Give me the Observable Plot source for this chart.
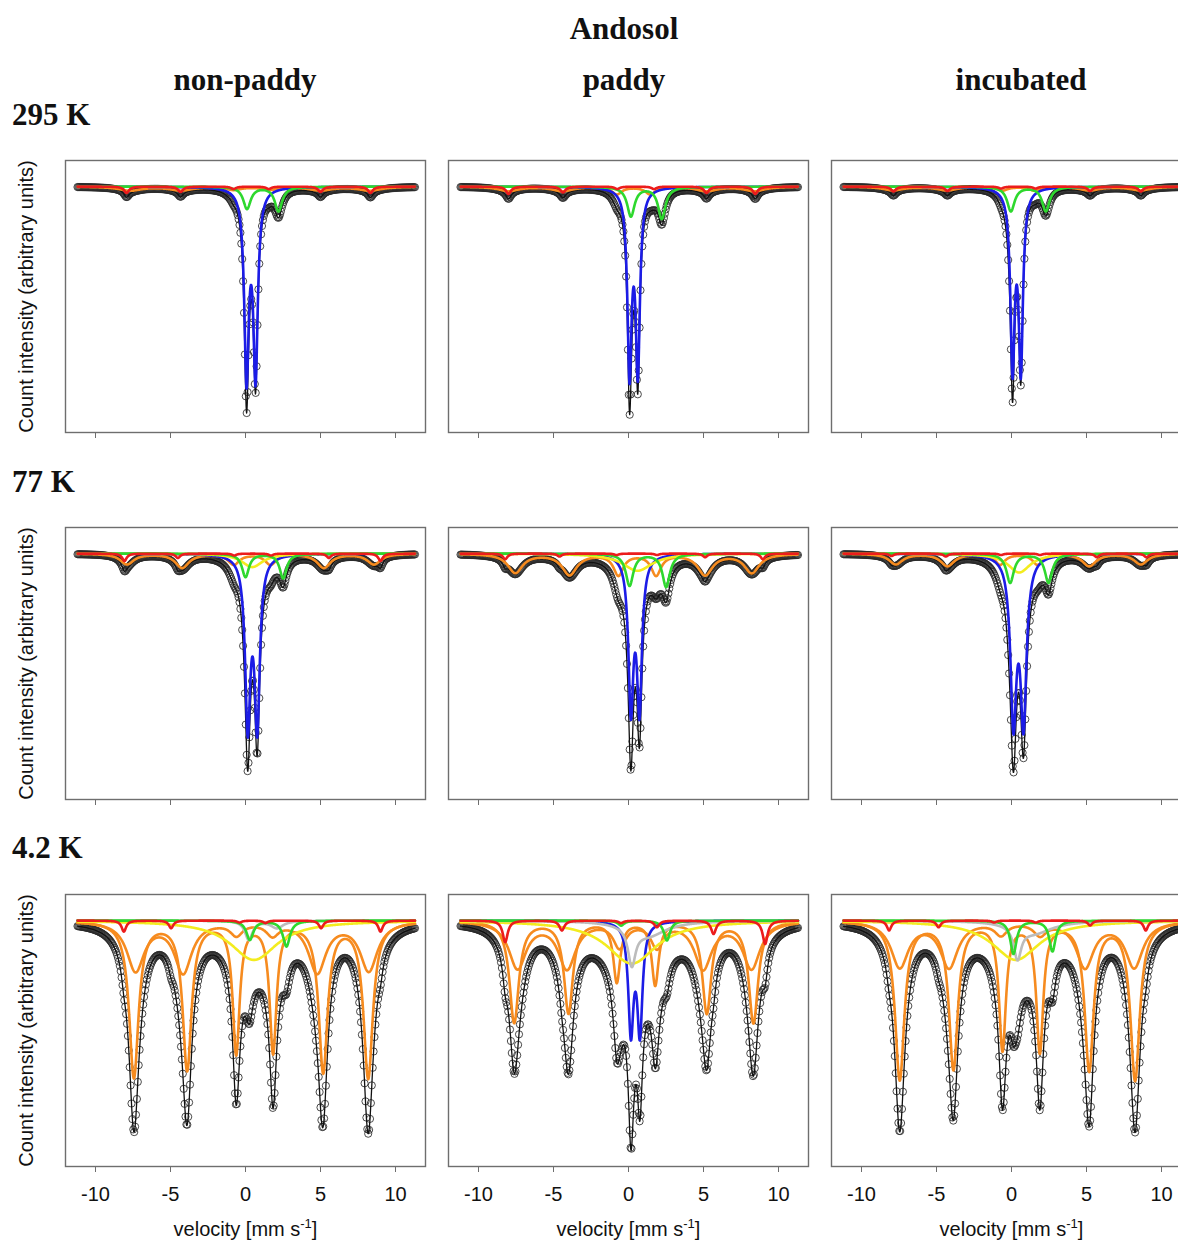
<!DOCTYPE html>
<html>
<head>
<meta charset="utf-8">
<script src="https://cdn.jsdelivr.net/npm/d3@7"></script>
<script src="https://cdn.jsdelivr.net/npm/@observablehq/plot@0.6"></script>
<style>
  html, body { margin: 0; padding: 0; background: #fff; }
  body { width: 1178px; height: 1242px; overflow: hidden; position: relative; }
  #fig { position: absolute; left: 0; top: 0; width: 1178px; height: 1242px; overflow: hidden; }
  .panel { position: absolute; }
  .panel svg { overflow: visible; max-width: none !important; display: block; }
  #heads { position: absolute; left: 0; top: 0; }
</style>
</head>
<body>
<div id="fig"></div>
<script>
// ---------------- text ----------------
const soilTitle = "Andosol";
const treatments = ["non-paddy", "paddy", "incubated"];
const temperatures = ["295 K", "77 K", "4.2 K"];
const yLabel = "Count intensity (arbitrary units)";
const xLabel = "velocity [mm s-1]";
const velocityTicks = [-10, -5, 0, 5, 10];
const velocityRange = [-11.2, 11.3];

// ---------------- fitted components ----------------
// [component, centre (mm/s), depth (relative absorption), half width (mm/s)]
const nonPaddy295 = [
  ["blue", 0.07, 0.76, 0.18], ["blue", 0.67, 0.75, 0.18],
  ["green", 0.10, 0.09, 0.30], ["green", 2.20, 0.10, 0.30],
  ["orange", -7.70, 0.016, 0.90], ["orange", -4.30, 0.015, 0.90], ["orange", -0.80, 0.012, 0.60],
  ["orange", 1.60, 0.012, 0.60], ["orange", 5.00, 0.015, 0.90], ["orange", 8.30, 0.016, 0.90],
  ["red", -7.93, 0.026, 0.20], ["red", -4.33, 0.022, 0.20], ["red", -0.80, 0.010, 0.20],
  ["red", 1.55, 0.010, 0.20], ["red", 5.00, 0.022, 0.20], ["red", 8.33, 0.026, 0.20]
];
const paddy295 = [
  ["blue", 0.07, 0.74, 0.17], ["blue", 0.62, 0.73, 0.17],
  ["green", 0.16, 0.12, 0.30], ["green", 2.22, 0.13, 0.30],
  ["orange", -8.00, 0.018, 0.80], ["orange", -4.40, 0.018, 0.80], ["orange", -0.78, 0.030, 0.40],
  ["orange", 1.45, 0.030, 0.40], ["orange", 5.20, 0.018, 0.80], ["orange", 8.40, 0.018, 0.80],
  ["red", -8.00, 0.030, 0.20], ["red", -4.37, 0.024, 0.20], ["red", -0.75, 0.010, 0.20],
  ["red", 1.70, 0.010, 0.20], ["red", 5.20, 0.026, 0.20], ["red", 8.45, 0.030, 0.20]
];
const incubated295 = [
  ["blue", 0.07, 0.72, 0.17], ["blue", 0.62, 0.72, 0.17],
  ["green", -0.04, 0.10, 0.30], ["green", 2.29, 0.10, 0.30],
  ["orange", -7.90, 0.015, 0.80], ["orange", -4.30, 0.015, 0.80], ["orange", -0.60, 0.015, 0.40],
  ["orange", 1.51, 0.015, 0.40], ["orange", 5.20, 0.015, 0.80], ["orange", 8.60, 0.015, 0.80],
  ["red", -7.87, 0.020, 0.20], ["red", -4.27, 0.018, 0.20], ["red", -0.70, 0.008, 0.20],
  ["red", 1.60, 0.008, 0.20], ["red", 5.24, 0.018, 0.20], ["red", 8.62, 0.020, 0.20]
];
const nonPaddy77 = [
  ["blue", 0.15, 0.68, 0.21], ["blue", 0.78, 0.68, 0.21],
  ["green", 0.00, 0.095, 0.28], ["green", 2.51, 0.10, 0.28],
  ["yellow", 0.45, 0.055, 0.85],
  ["orange", -7.90, 0.043, 0.55], ["orange", -4.22, 0.057, 0.55], ["orange", -0.78, 0.043, 0.45],
  ["orange", 1.67, 0.043, 0.45], ["orange", 5.22, 0.057, 0.55], ["orange", 8.56, 0.043, 0.55],
  ["red", -8.07, 0.030, 0.18], ["red", -4.51, 0.018, 0.18], ["red", -0.75, 0.008, 0.18],
  ["red", 1.70, 0.008, 0.18], ["red", 5.56, 0.018, 0.18], ["red", 9.00, 0.030, 0.18]
];
const paddy77 = [
  ["blue", 0.16, 0.61, 0.20], ["blue", 0.73, 0.61, 0.20],
  ["green", 0.07, 0.13, 0.30], ["green", 2.51, 0.135, 0.30],
  ["yellow", 0.60, 0.07, 1.20],
  ["orange", -7.55, 0.077, 0.60], ["orange", -3.93, 0.085, 0.60], ["orange", -0.67, 0.085, 0.40],
  ["orange", 1.84, 0.085, 0.40], ["orange", 5.11, 0.085, 0.60], ["orange", 8.22, 0.077, 0.60],
  ["red", -8.22, 0.023, 0.18], ["red", -4.60, 0.012, 0.18], ["red", -0.80, 0.006, 0.18],
  ["red", 1.90, 0.006, 0.18], ["red", 5.11, 0.015, 0.18], ["red", 8.96, 0.023, 0.18]
];
const incubated77 = [
  ["blue", 0.13, 0.66, 0.24], ["blue", 0.80, 0.66, 0.24],
  ["green", -0.09, 0.118, 0.30], ["green", 2.47, 0.118, 0.30],
  ["yellow", 0.51, 0.077, 0.90],
  ["orange", -7.71, 0.043, 0.55], ["orange", -4.27, 0.050, 0.55], ["orange", -0.76, 0.043, 0.40],
  ["orange", 1.73, 0.043, 0.40], ["orange", 5.18, 0.050, 0.55], ["orange", 8.62, 0.043, 0.55],
  ["red", -8.00, 0.010, 0.18], ["red", -4.38, 0.012, 0.18], ["red", -0.70, 0.006, 0.18],
  ["red", 1.90, 0.006, 0.18], ["red", 5.69, 0.015, 0.18], ["red", 9.00, 0.015, 0.18]
];
const nonPaddy4 = [
  ["orange", -7.44, 0.634, 0.38], ["orange", -3.89, 0.600, 0.36], ["orange", -0.62, 0.530, 0.28],
  ["orange", 1.84, 0.526, 0.28], ["orange", 5.18, 0.607, 0.36], ["orange", 8.18, 0.634, 0.38],
  ["orangeBroad", -7.33, 0.200, 0.70], ["orangeBroad", -4.16, 0.207, 0.70], ["orangeBroad", -0.60, 0.050, 0.50],
  ["orangeBroad", 1.80, 0.050, 0.50], ["orangeBroad", 4.78, 0.207, 0.70], ["orangeBroad", 8.22, 0.200, 0.70],
  ["yellow", 0.56, 0.16, 1.90],
  ["gray", 0.22, 0.078, 0.30], ["gray", 2.10, 0.030, 0.50],
  ["green", 0.29, 0.078, 0.28], ["green", 2.73, 0.105, 0.28],
  ["red", -8.11, 0.045, 0.18], ["red", -4.96, 0.031, 0.18], ["red", -0.40, 0.008, 0.18],
  ["red", 1.33, 0.010, 0.18], ["red", 5.04, 0.031, 0.18], ["red", 9.00, 0.045, 0.18]
];
const paddy4 = [
  ["orange", -7.62, 0.413, 0.38], ["orange", -4.00, 0.372, 0.36], ["orange", -0.78, 0.244, 0.28],
  ["orange", 1.78, 0.256, 0.28], ["orange", 5.22, 0.372, 0.36], ["orange", 8.33, 0.413, 0.38],
  ["orangeBroad", -7.40, 0.190, 0.70], ["orangeBroad", -4.10, 0.190, 0.70], ["orangeBroad", -0.60, 0.100, 0.50],
  ["orangeBroad", 1.90, 0.100, 0.50], ["orangeBroad", 4.97, 0.190, 0.70], ["orangeBroad", 8.20, 0.190, 0.70],
  ["blue", 0.16, 0.44, 0.21], ["blue", 0.76, 0.44, 0.21],
  ["yellow", 0.22, 0.175, 2.00],
  ["gray", 0.22, 0.15, 0.30], ["gray", 1.30, 0.06, 1.50],
  ["green", -0.49, 0.020, 0.25], ["green", 2.56, 0.081, 0.25],
  ["red", -8.22, 0.088, 0.20], ["red", -4.44, 0.040, 0.20], ["red", -0.50, 0.010, 0.20],
  ["red", 1.89, 0.027, 0.20], ["red", 5.67, 0.054, 0.20], ["red", 9.11, 0.095, 0.20]
];
const incubated4 = [
  ["orange", -7.45, 0.643, 0.38], ["orange", -3.87, 0.596, 0.36], ["orange", -0.60, 0.515, 0.28],
  ["orange", 1.89, 0.524, 0.28], ["orange", 5.18, 0.600, 0.36], ["orange", 8.24, 0.643, 0.38],
  ["orangeBroad", -7.45, 0.186, 0.70], ["orangeBroad", -4.16, 0.186, 0.70], ["orangeBroad", -0.70, 0.050, 0.50],
  ["orangeBroad", 1.90, 0.050, 0.50], ["orangeBroad", 4.90, 0.186, 0.70], ["orangeBroad", 8.18, 0.186, 0.70],
  ["yellow", 0.29, 0.16, 1.90],
  ["gray", 0.40, 0.13, 0.30], ["gray", 1.50, 0.05, 1.50],
  ["green", 0.13, 0.135, 0.25], ["green", 2.73, 0.125, 0.25],
  ["red", -8.16, 0.040, 0.18], ["red", -4.86, 0.027, 0.18], ["red", -1.16, 0.008, 0.18],
  ["red", 1.62, 0.008, 0.18], ["red", 5.24, 0.020, 0.18], ["red", 8.95, 0.040, 0.18]
];

const spectra = [
  [nonPaddy295, paddy295, incubated295],
  [nonPaddy77, paddy77, incubated77],
  [nonPaddy4, paddy4, incubated4]
];

// ---------------- styling / layout ----------------
const componentColors = {
  orangeBroad: "#f68b1f", orange: "#f68b1f", blue: "#1c1ce6", yellow: "#f3ec1f",
  gray: "#bcbcbc", green: "#2ed82e", red: "#ec1c1c"
};
const drawOrder = ["orangeBroad", "orange", "blue", "yellow", "gray", "green", "red"];
const frameLefts = [65, 448, 831];
const frameTops = [160, 527, 894];
const frameW = 360, frameH = 272;
const yTop = 1.106;
const axisGray = "#6e6e6e";

const lorentz = (v, c, d, w) => d * w * w / (w * w + (v - c) * (v - c));
const fine = d3.range(velocityRange[0], velocityRange[1] + 1e-9, 0.02);
const coarse = d3.range(velocityRange[0], velocityRange[1] + 1e-9, 0.06);

const fig = document.getElementById("fig");

spectra.forEach((row, r) => {
  row.forEach((lines, c) => {
    const total = v => 1 - d3.sum(lines, l => lorentz(v, l[1], l[2], l[3]));
    const fitLine = fine.map(v => ({v, y: total(v)}));
    const points = coarse.map(v => ({v, y: total(v)}));
    const keys = drawOrder.filter(k => lines.some(l => l[0] === k));
    const compMarks = keys.map(k => {
      const sub = lines.filter(l => l[0] === k);
      const curve = fine.map(v => ({v, y: 1 - d3.sum(sub, l => lorentz(v, l[1], l[2], l[3]))}));
      return Plot.line(curve, {x: "v", y: "y", stroke: componentColors[k], strokeWidth: 2.6});
    });

    const mL = c === 0 ? 65 : 20, mR = 20, mT = 12, mB = r === 2 ? 84 : 20;
    const bottomRow = r === 2;
    const W = mL + frameW + mR, H = mT + frameH + mB;
    const marks = [
      Plot.frame({stroke: axisGray, strokeWidth: 1.4}),
      Plot.axisX({
        ticks: velocityTicks, tickSize: 6, tickPadding: 14, label: null,
        tickFormat: bottomRow ? (d => String(d)) : (() => ""),
        fontSize: 20, stroke: axisGray, fill: "#111"
      }),
      Plot.dot(points, {x: "v", y: "y", r: 3.6, stroke: "#2a2a2a", strokeWidth: 0.85, fill: "none"}),
      Plot.line(fitLine, {x: "v", y: "y", stroke: "#111", strokeWidth: 1.3}),
      ...compMarks
    ];
    if (c === 0) {
      marks.push(Plot.text([yLabel], {frameAnchor: "left", textAnchor: "middle", rotate: -90, dx: -39, fontSize: 20, fill: "#111"}));
    }
    if (bottomRow) {
      marks.push(Plot.text([xLabel], {frameAnchor: "bottom", textAnchor: "middle", dy: 69, fontSize: 20, fill: "#111"}));
    }
    const svg = Plot.plot({
      width: W, height: H,
      marginLeft: mL, marginRight: mR, marginTop: mT, marginBottom: mB,
      style: {fontFamily: "'Liberation Sans', Arial, sans-serif", fontSize: "20px", background: "transparent", color: "#111", maxWidth: "none"},
      x: {domain: [-12, 12]},
      y: {domain: [0, yTop], axis: null},
      marks
    });
    // superscript in the velocity unit
    d3.select(svg).selectAll("text").filter(function () { return this.textContent === xLabel; })
      .each(function () {
        const t = d3.select(this);
        t.text(null);
        t.append("tspan").text("velocity [mm s");
        t.append("tspan").attr("dy", -8).attr("font-size", 13).text("-1");
        t.append("tspan").attr("dy", 8).text("]");
      });
    const holder = document.createElement("div");
    holder.className = "panel";
    holder.style.left = (frameLefts[c] - mL) + "px";
    holder.style.top = (frameTops[r] - mT) + "px";
    holder.style.width = W + "px";
    holder.style.height = H + "px";
    holder.appendChild(svg);
    fig.appendChild(holder);
  });
});

// ---------------- headings ----------------
const heads = d3.select(fig).append("svg").attr("id", "heads")
  .attr("width", 1178).attr("height", 1242)
  .style("font-family", "'Liberation Serif', 'DejaVu Serif', serif")
  .style("font-weight", "bold").style("font-size", "31px").attr("fill", "#111");
heads.append("text").attr("x", 624).attr("y", 39).attr("text-anchor", "middle").text(soilTitle);
[245, 624, 1021].forEach((x, i) =>
  heads.append("text").attr("x", x).attr("y", 90).attr("text-anchor", "middle").text(treatments[i]));
[125, 492, 858].forEach((y, i) =>
  heads.append("text").attr("x", 12).attr("y", y).text(temperatures[i]));
</script>
</body>
</html>
